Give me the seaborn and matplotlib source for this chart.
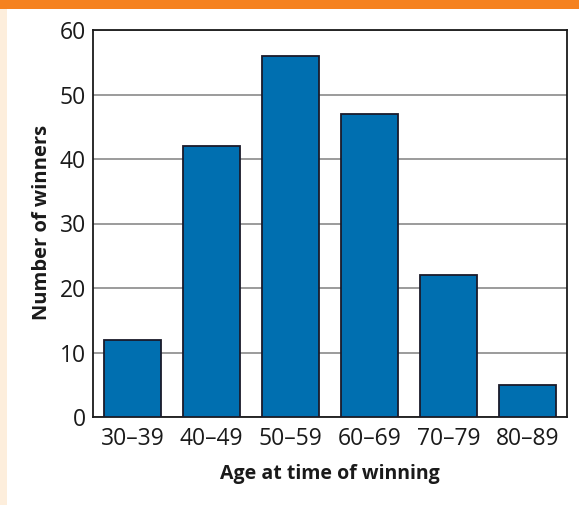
import matplotlib
matplotlib.use("Agg")
import matplotlib.pyplot as plt
import seaborn as sns
import pandas as pd
from matplotlib.patches import Rectangle

age_groups = ['30–39', '40–49', '50–59', '60–69', '70–79', '80–89']
winners = [12, 42, 56, 47, 22, 5]
y_ticks = [0, 10, 20, 30, 40, 50, 60]

df = pd.DataFrame({'Age group': age_groups, 'Winners': winners})

sns.set_theme(style='white')
plt.rcParams['font.family'] = ['Open Sans', 'DejaVu Sans']

W, H = 579, 505
fig = plt.figure(figsize=(W / 100, H / 100), dpi=100)
fig.patch.set_facecolor('white')

# page decoration: orange band at top, beige strip on the left
fig.patches.append(Rectangle((0, 1 - 9 / H), 1, 9 / H, transform=fig.transFigure,
                             facecolor='#f5821f', edgecolor='none', zorder=0))
fig.patches.append(Rectangle((0, 0), 7 / W, 1 - 9 / H, transform=fig.transFigure,
                             facecolor='#fdeedc', edgecolor='none', zorder=0))

# axes box in pixels: x 93..567, y 30..417
L, R, T, B = 93, 567, 30, 417
ax = fig.add_axes([L / W, 1 - B / H, (R - L) / W, (B - T) / H])

sns.barplot(data=df, x='Age group', y='Winners', color='#006fb0', width=0.72,
            edgecolor='#1a1a2a', linewidth=1.3, saturation=1, ax=ax, zorder=3)

ax.set_ylim(0, 60)
ax.set_xlim(-0.5, 5.5)
ax.set_yticks(y_ticks)
ax.yaxis.grid(True, color='#8a8a8a', linewidth=1.2, zorder=0)
ax.set_axisbelow(True)
for s in ax.spines.values():
    s.set_color('#1a1a1a')
    s.set_linewidth(1.3)

ax.tick_params(axis='both', length=0, labelsize=16.5, colors='#1a1a1a')
ax.tick_params(axis='y', pad=5)
ax.tick_params(axis='x', pad=7)
ax.set_xlabel('Age at time of winning', fontsize=14, fontweight='bold', color='#1a1a1a')
ax.set_ylabel('Number of winners', fontsize=14.5, fontweight='bold', color='#1a1a1a')
# label centres as in the reference
ax.xaxis.set_label_coords(0.5, -(474 - B) / (B - T))
ax.yaxis.set_label_coords(-(L - 42) / (R - L), (B - 222) / (B - T))
ax.xaxis.label.set_va('center')
ax.yaxis.label.set_va('center')

fig.savefig('out.png', dpi=100)
